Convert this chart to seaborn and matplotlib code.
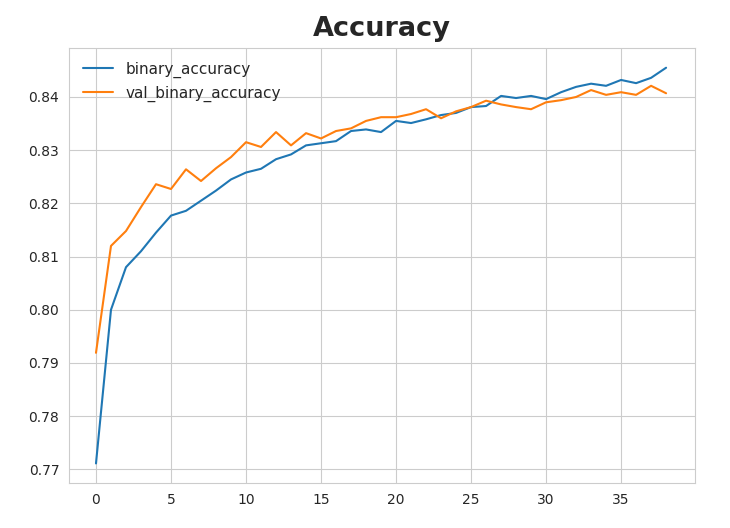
import pandas as pd
import matplotlib.pyplot as plt
import seaborn as sns

epochs = list(range(39))
binary_accuracy = [
    0.7711, 0.8000, 0.8080, 0.8110, 0.8145, 0.8177, 0.8186, 0.8205, 0.8224, 0.8245,
    0.8258, 0.8265, 0.8283, 0.8292, 0.8309, 0.8313, 0.8317, 0.8336, 0.8339, 0.8334,
    0.8355, 0.8351, 0.8358, 0.8366, 0.8370, 0.8381, 0.8383, 0.8402, 0.8398, 0.8402,
    0.8396, 0.8409, 0.8419, 0.8425, 0.8421, 0.8432, 0.8426, 0.8436, 0.8455,
]
val_binary_accuracy = [
    0.7919, 0.8120, 0.8148, 0.8193, 0.8236, 0.8227, 0.8264, 0.8242, 0.8266, 0.8287,
    0.8315, 0.8306, 0.8334, 0.8309, 0.8332, 0.8322, 0.8336, 0.8341, 0.8355, 0.8362,
    0.8362, 0.8368, 0.8377, 0.8360, 0.8373, 0.8381, 0.8393, 0.8386, 0.8381, 0.8377,
    0.8390, 0.8394, 0.8400, 0.8413, 0.8404, 0.8409, 0.8404, 0.8421, 0.8407,
]

history_df = pd.DataFrame({
    "epoch": epochs + epochs,
    "value": binary_accuracy + val_binary_accuracy,
    "metric": ["binary_accuracy"] * len(epochs) + ["val_binary_accuracy"] * len(epochs),
})

sns.set_style("whitegrid")
plt.rcParams["font.family"] = ["DejaVu Sans"]

fig = plt.figure(figsize=(7.3, 5.28), dpi=100)
ax = fig.add_axes([0.0945, 0.085, 0.857, 0.824])
sns.lineplot(data=history_df, x="epoch", y="value", hue="metric",
             palette=["#1f77b4", "#ff7f0e"], linewidth=1.5, ax=ax)

ax.set_title("Accuracy", fontsize=19.5, fontweight="bold", pad=9)
ax.set_xlabel("")
ax.set_ylabel("")
ax.set_xlim(-1.8, 39.9)
ax.set_ylim(0.7674, 0.8492)
ax.set_yticks([0.77, 0.78, 0.79, 0.80, 0.81, 0.82, 0.83, 0.84])
ax.set_yticklabels([f"{t:.2f}" for t in ax.get_yticks()])
ax.tick_params(labelsize=10)
ax.legend(loc="upper left", fontsize=11, frameon=False, title=None)

plt.savefig("out.png", dpi=100)
plt.close()
